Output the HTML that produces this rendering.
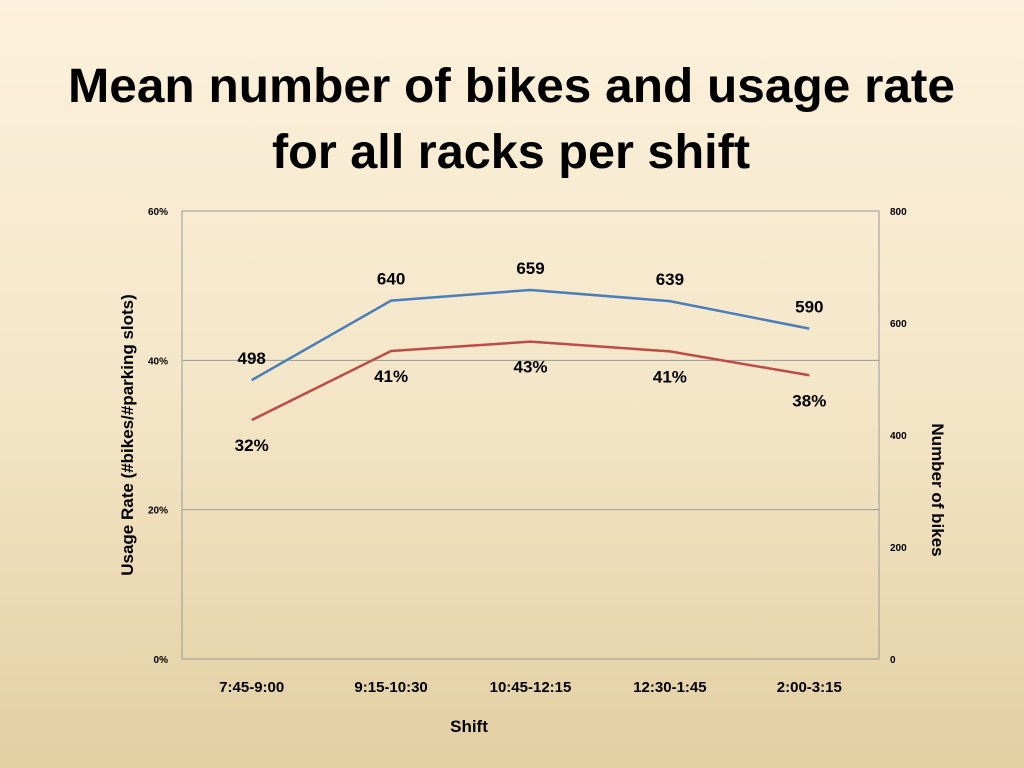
<!DOCTYPE html>
<html><head><meta charset="utf-8"><style>
html,body{margin:0;padding:0;width:1024px;height:768px;overflow:hidden}
svg{display:block;font-family:"Liberation Sans",sans-serif}
</style></head><body>
<svg id="chart" width="1024" height="768" viewBox="0 0 1024 768">
<defs><linearGradient id="bg" x1="0" y1="0" x2="0" y2="1">
<stop offset="0" stop-color="#fcf1dc"/><stop offset="0.5" stop-color="#f4e6c8"/><stop offset="1" stop-color="#e3cfa2"/></linearGradient></defs>
<rect width="1024" height="768" fill="url(#bg)"/>
<text x="68" y="102" textLength="887" lengthAdjust="spacingAndGlyphs" font-size="48" font-weight="bold" fill="#000">Mean number of bikes and usage rate</text>
<text x="272" y="168" textLength="478" lengthAdjust="spacingAndGlyphs" font-size="48" font-weight="bold" fill="#000">for all racks per shift</text>
<g id="plot"></g>
</svg>
<script>
const categories = ["7:45-9:00","9:15-10:30","10:45-12:15","12:30-1:45","2:00-3:15"];
const bikes = [498,640,659,639,590];
const usage = [0.32,0.4125,0.425,0.412,0.38];
const usageLabels = ["32%","41%","43%","41%","38%"];
const leftTicks = [0,0.2,0.4,0.6];
const leftTickLabels = ["0%","20%","40%","60%"];
const rightTicks = [0,200,400,600,800];

const NS="http://www.w3.org/2000/svg";
const g=document.getElementById('plot');
const L=182,R=879,T=211,B=659;
const xs=i=>L+(R-L)/categories.length*(i+0.5);
const yl=v=>B-v/0.6*(B-T);
const yr=v=>B-v/800*(B-T);
function mk(tag,a,txt){const e=document.createElementNS(NS,tag);for(const k in a)e.setAttribute(k,a[k]);if(txt!==undefined)e.textContent=txt;g.appendChild(e);return e;}

leftTicks.forEach((v,i)=>{
  if(v>0&&v<0.6){const l=mk('line',{x1:L,x2:R,y1:yl(v),y2:yl(v),stroke:'#999','stroke-width':1});
  
  }
  const t=mk('text',{x:L-14,y:yl(v)+4,'text-anchor':'end','font-size':10,'font-weight':'bold'},leftTickLabels[i]);
  
  
});
rightTicks.forEach(v=>{
  const t=mk('text',{x:R+11,y:yr(v)+4,'font-size':10,'font-weight':'bold'},String(v));
  
  
});
const frame=mk('rect',{x:L,y:T,width:R-L,height:B-T,fill:'none',stroke:'#999','stroke-width':1});



categories.forEach((c,i)=>{
  const t=mk('text',{x:xs(i),y:692,'text-anchor':'middle','font-size':15,'font-weight':'bold'},c);
  
  
});

const bl=mk('polyline',{points:bikes.map((v,i)=>xs(i)+','+yr(v)).join(' '),fill:'none',stroke:'#4a7ebb','stroke-width':2.5});


const rl=mk('polyline',{points:usage.map((v,i)=>xs(i)+','+yl(v)).join(' '),fill:'none',stroke:'#be4b48','stroke-width':2.5});



bikes.forEach((v,i)=>{
  const t=mk('text',{x:xs(i),y:yr(v)-16,'text-anchor':'middle','font-size':17,'font-weight':'bold'},String(v));
  
  
});
usage.forEach((v,i)=>{
  const t=mk('text',{x:xs(i),y:yl(v)+31,'text-anchor':'middle','font-size':17,'font-weight':'bold'},usageLabels[i]);
  
  
});

const yt=mk('text',{x:0,y:0,transform:'translate(133,435) rotate(-90)','text-anchor':'middle','font-size':17,'font-weight':'bold'},'Usage Rate (#bikes/#parking slots)');


const yt2=mk('text',{x:0,y:0,transform:'translate(932,490) rotate(90)','text-anchor':'middle','font-size':17,'font-weight':'bold'},'Number of bikes');


const xt=mk('text',{x:469,y:732,'text-anchor':'middle','font-size':17,'font-weight':'bold'},'Shift');


</script>
</body></html>
